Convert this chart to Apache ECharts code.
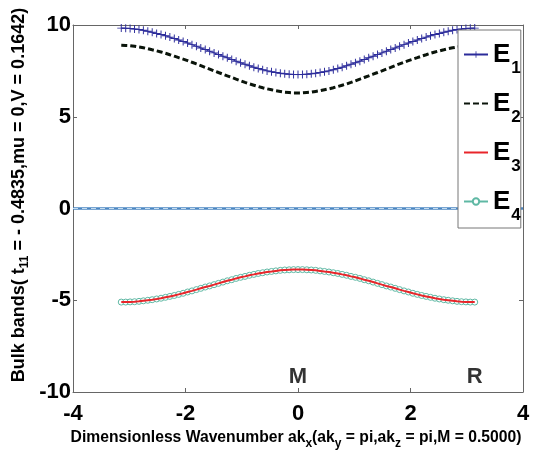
<!DOCTYPE html>
<html>
<head>
<meta charset="utf-8">
<script src="https://cdn.jsdelivr.net/npm/echarts@6/dist/echarts.min.js"></script>
<style>html,body{margin:0;padding:0;background:#fff}#c{width:533px;height:460px}</style>
</head>
<body>
<div id="c"></div>
<script>
// Wavenumber grid ak_x from -pi to pi
const xs = [-3.142,-3.063,-2.985,-2.906,-2.827,-2.749,-2.670,-2.592,-2.513,-2.435,-2.356,-2.278,-2.199,-2.121,-2.042,-1.963,-1.885,-1.806,-1.728,-1.649,-1.571,-1.492,-1.414,-1.335,-1.257,-1.178,-1.100,-1.021,-0.942,-0.864,-0.785,-0.707,-0.628,-0.550,-0.471,-0.393,-0.314,-0.236,-0.157,-0.079,0,
0.079,0.157,0.236,0.314,0.393,0.471,0.550,0.628,0.707,0.785,0.864,0.942,1.021,1.100,1.178,1.257,1.335,1.414,1.492,1.571,1.649,1.728,1.806,1.885,1.963,2.042,2.121,2.199,2.278,2.356,2.435,2.513,2.592,2.670,2.749,2.827,2.906,2.985,3.063,3.142];

const E1 = [9.83,9.82,9.81,9.78,9.75,9.71,9.66,9.60,9.54,9.48,9.41,9.34,9.26,9.18,9.10,9.02,8.93,8.84,8.75,8.66,8.57,8.48,8.39,8.30,8.21,8.12,8.03,7.94,7.86,7.78,7.70,7.63,7.56,7.50,7.45,7.41,7.37,7.34,7.32,7.30,7.30,
7.30,7.32,7.34,7.37,7.41,7.45,7.50,7.56,7.63,7.70,7.78,7.86,7.94,8.03,8.12,8.21,8.30,8.39,8.48,8.57,8.66,8.75,8.84,8.93,9.02,9.10,9.18,9.26,9.34,9.41,9.48,9.54,9.60,9.66,9.71,9.75,9.78,9.81,9.82,9.83];

const E2 = [8.89,8.88,8.87,8.84,8.80,8.76,8.71,8.65,8.59,8.53,8.46,8.38,8.30,8.22,8.14,8.06,7.97,7.88,7.79,7.69,7.60,7.50,7.41,7.32,7.23,7.14,7.05,6.96,6.87,6.79,6.72,6.65,6.58,6.52,6.47,6.42,6.38,6.34,6.32,6.30,6.30,
6.30,6.32,6.34,6.38,6.42,6.47,6.52,6.58,6.65,6.72,6.79,6.87,6.96,7.05,7.14,7.23,7.32,7.41,7.50,7.60,7.69,7.79,7.88,7.97,8.06,8.14,8.22,8.30,8.38,8.46,8.53,8.59,8.65,8.71,8.76,8.80,8.84,8.87,8.88,8.89];

const E3 = [-5.10,-5.10,-5.09,-5.08,-5.06,-5.03,-5.00,-4.97,-4.93,-4.89,-4.84,-4.79,-4.74,-4.68,-4.62,-4.55,-4.49,-4.42,-4.35,-4.28,-4.22,-4.15,-4.08,-4.01,-3.94,-3.88,-3.81,-3.75,-3.70,-3.64,-3.59,-3.54,-3.50,-3.46,-3.43,-3.40,-3.37,-3.35,-3.34,-3.33,-3.33,
-3.33,-3.34,-3.35,-3.37,-3.40,-3.43,-3.46,-3.50,-3.54,-3.59,-3.64,-3.70,-3.75,-3.81,-3.88,-3.94,-4.01,-4.08,-4.15,-4.22,-4.28,-4.35,-4.42,-4.49,-4.55,-4.62,-4.68,-4.74,-4.79,-4.84,-4.89,-4.93,-4.97,-5.00,-5.03,-5.06,-5.08,-5.09,-5.10,-5.10];

const E4 = [-5.10,-5.10,-5.09,-5.08,-5.06,-5.03,-5.00,-4.97,-4.93,-4.89,-4.84,-4.79,-4.74,-4.68,-4.62,-4.55,-4.49,-4.42,-4.35,-4.28,-4.22,-4.15,-4.08,-4.01,-3.94,-3.88,-3.81,-3.75,-3.70,-3.64,-3.59,-3.54,-3.50,-3.46,-3.43,-3.40,-3.37,-3.35,-3.34,-3.33,-3.33,
-3.33,-3.34,-3.35,-3.37,-3.40,-3.43,-3.46,-3.50,-3.54,-3.59,-3.64,-3.70,-3.75,-3.81,-3.88,-3.94,-4.01,-4.08,-4.15,-4.22,-4.28,-4.35,-4.42,-4.49,-4.55,-4.62,-4.68,-4.74,-4.79,-4.84,-4.89,-4.93,-4.97,-5.00,-5.03,-5.06,-5.08,-5.09,-5.10,-5.10];

// zero-energy bands across the axis
const zeroX = [-4, 4];
const zeroY = [0, 0];

// high-symmetry point labels
const symText = ['M', 'R'];
const symX = [0, 3.142];
const symY = [-9.2, -9.2];

const xTicks = [-4, -2, 0, 2, 4];
const yTicks = [-10, -5, 0, 5, 10];

const FONT = '"Liberation Sans", Arial, sans-serif';

const pairs = (xa, ya) => xa.map((x, i) => [x, ya[i]]);

const chart = echarts.init(document.getElementById('c'), null, {renderer: 'canvas'});
const axisLine = {show: true, onZero: false, lineStyle: {color: '#666', width: 1}};
const tick = {show: true, inside: true, length: 4, lineStyle: {color: '#666'}};
const tickLabel = {fontSize: 22, fontWeight: 'bold', color: '#000', fontFamily: FONT};

chart.setOption({
  animation: false,
  backgroundColor: '#fff',
  grid: {left: 73, top: 25, right: 10, bottom: 68},
  xAxis: [{
    type: 'value', min: xTicks[0], max: xTicks[xTicks.length - 1], interval: 2,
    axisLine, axisTick: tick, splitLine: {show: false},
    axisLabel: Object.assign({margin: 11}, tickLabel)
  }, {
    type: 'value', position: 'top', min: -4, max: 4, interval: 2,
    axisLine, axisTick: tick, axisLabel: {show: false}, splitLine: {show: false}
  }],
  yAxis: [{
    type: 'value', min: yTicks[0], max: yTicks[yTicks.length - 1], interval: 5,
    axisLine, axisTick: tick, splitLine: {show: false},
    axisLabel: Object.assign({margin: 2}, tickLabel)
  }, {
    type: 'value', position: 'right', min: -10, max: 10, interval: 5,
    axisLine, axisTick: tick, axisLabel: {show: false}, splitLine: {show: false}
  }],
  graphic: [
    {
      type: 'text', x: 296, y: 438, silent: true,
      style: {
        text: '{n|Dimensionless Wavenumber ak}{s|x}{n|(ak}{s|y}{n| = pi,ak}{s|z}{n| = pi,M = 0.5000)}',
        align: 'center', verticalAlign: 'middle',
        rich: {
          n: {fontSize: 15.7, fontWeight: 'bold', fill: '#000', fontFamily: FONT},
          s: {fontSize: 12, fontWeight: 'bold', fill: '#000', fontFamily: FONT, padding: [12, 0, 0, 0]}
        }
      }
    },
    {
      type: 'text', x: 19, y: 195, rotation: Math.PI / 2, silent: true,
      style: {
        text: '{n|Bulk bands( t}{s|11}{n| = - 0.4835,mu = 0,V = 0.1642)}',
        align: 'center', verticalAlign: 'middle',
        rich: {
          n: {fontSize: 18, fontWeight: 'bold', fill: '#000', fontFamily: FONT},
          s: {fontSize: 12, fontWeight: 'bold', fill: '#000', fontFamily: FONT, padding: [12, 0, 0, 0]}
        }
      }
    }
  ],
  legend: {
    data: [
      {name: 'E1'},
      {name: 'E2', itemStyle: {opacity: 0}},
      {name: 'E3', itemStyle: {opacity: 0}},
      {name: 'E4'}
    ],
    orient: 'vertical', left: 458, top: 30,
    backgroundColor: '#fff', borderColor: '#777', borderWidth: 1,
    padding: [2, 0, 4, 5], itemGap: 4, itemWidth: 24, itemHeight: 8,
    formatter: n => '{e|E}{s|' + n.slice(1) + '}',
    textStyle: {
      rich: {
        e: {fontSize: 26, fontWeight: 'bold', color: '#000', fontFamily: FONT, lineHeight: 28},
        s: {fontSize: 17, fontWeight: 'bold', color: '#000', fontFamily: FONT, lineHeight: 17, padding: [28, 0, 0, 1]}
      }
    }
  },
  series: [
    {
      name: 'zero', type: 'line', data: pairs(zeroX, zeroY), showSymbol: false, symbol: 'none',
      lineStyle: {color: '#4a86c2', width: 2.5}, z: 2, silent: true
    },
    {
      name: 'zero2', type: 'line', data: pairs(zeroX, zeroY), showSymbol: false, symbol: 'none',
      lineStyle: {color: '#c4dcf0', width: 1, type: [5, 4]}, z: 2, silent: true
    },
    {
      name: 'E1', type: 'line', data: pairs(xs, E1),
      symbol: 'path://M4.4,0H5.6V4.4H10V5.6H5.6V10H4.4V5.6H0V4.4H4.4Z', symbolSize: 8,
      itemStyle: {color: '#2b2b9a'}, lineStyle: {color: '#2b2b9a', width: 1}, z: 3
    },
    {
      name: 'E2', type: 'line', data: pairs(xs, E2), symbol: 'none',
      itemStyle: {color: '#000'}, lineStyle: {color: '#0a140a', width: 3, type: [6, 3]}, z: 3
    },
    {
      name: 'E4', type: 'line', data: pairs(xs, E4),
      symbol: 'circle', symbolSize: 6,
      itemStyle: {color: '#fff', borderColor: '#5fb8a4', borderWidth: 1},
      lineStyle: {color: '#5fb8a4', width: 1}, z: 3
    },
    {
      name: 'E3', type: 'line', data: pairs(xs, E3), symbol: 'none',
      itemStyle: {color: '#e8252a'}, lineStyle: {color: '#e8252a', width: 2}, z: 4
    },
    {
      name: 'sym', type: 'scatter', data: pairs(symX, symY), symbolSize: 1, silent: true,
      itemStyle: {color: 'rgba(0,0,0,0)'},
      label: {show: true, position: 'inside', formatter: p => symText[p.dataIndex],
        fontSize: 22, fontWeight: 'bold', color: '#000', textBorderWidth: 0, fontFamily: FONT}
    }
  ]
});
</script>
</body>
</html>
